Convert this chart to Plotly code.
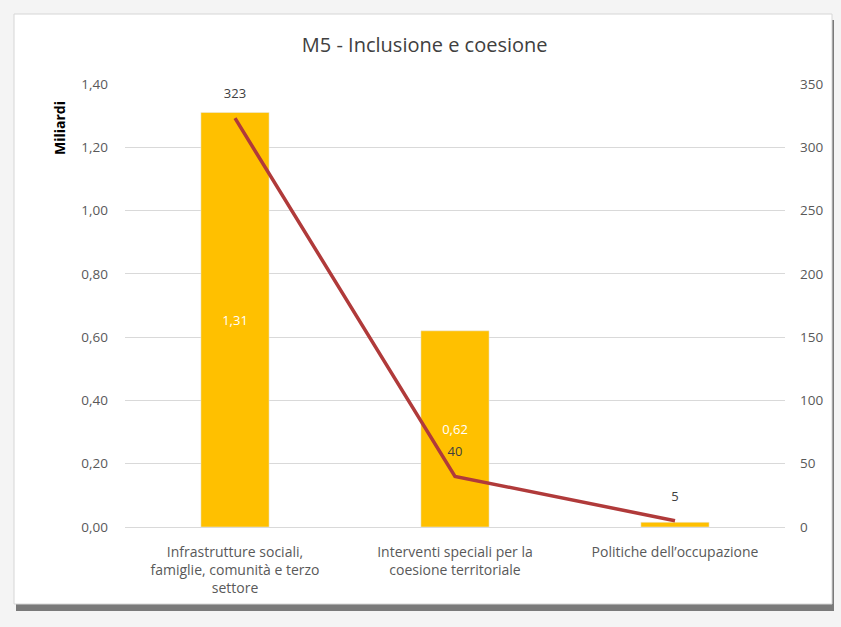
import plotly.graph_objects as go

categories = [
    "Infrastrutture sociali,<br>famiglie, comunità e terzo<br>settore",
    "Interventi speciali per la<br>coesione territoriale",
    "Politiche dell’occupazione",
]
miliardi = [1.31, 0.62, 0.015]
bar_labels = ["1,31", "0,62", ""]
progetti = [323, 40, 5]
line_labels = ["323", "40", "5"]

W, H = 841, 627
L, R, T, B = 125, 785, 84, 527

def px(x):
    return (x - L) / (R - L)

def py(y):
    return (B - y) / (B - T)

fig = go.Figure()
fig.add_trace(go.Bar(
    x=categories, y=miliardi, marker_color="#FFC000",
    text=bar_labels, textposition="inside", insidetextanchor="middle",
    textfont=dict(color="white", size=13, family="Open Sans"),
    width=0.31, yaxis="y", cliponaxis=False,
))
fig.add_trace(go.Scatter(
    x=categories, y=progetti, mode="lines+text", yaxis="y2",
    line=dict(color="#B03A3A", width=3.5),
    text=[t + "<br> " for t in line_labels], textposition="top center",
    textfont=dict(color="#404040", size=13, family="Open Sans"),
    cliponaxis=False,
))

tickfont = dict(color="#595959", size=13.5, family="Open Sans")
fig.update_layout(
    width=W, height=H,
    margin=dict(l=L, r=W - R, t=T, b=H - B),
    paper_bgcolor="#f4f4f4",
    plot_bgcolor="rgba(0,0,0,0)",
    showlegend=False,
    separators=",.",
    bargap=0.69,
    xaxis=dict(tickfont=dict(color="#595959", size=14, family="Open Sans"),
               showgrid=False, showline=True,
               linecolor="#d9d9d9", ticks="", tickangle=0, ticklabelstandoff=12),
    yaxis=dict(range=[0, 1.4], dtick=0.2, tickformat=".2f", tickfont=tickfont,
               gridcolor="#d9d9d9", zeroline=False, ticks="", ticklen=0,
               ticklabelstandoff=16),
    yaxis2=dict(range=[0, 350], dtick=50, overlaying="y", side="right",
                tickfont=tickfont, showgrid=False, zeroline=False,
                ticklabelstandoff=14),
    title=dict(text="M5 - Inclusione e coesione", x=0.505, xanchor="center",
               y=1 - 45 / H, yanchor="middle",
               font=dict(size=20, color="#404040", family="Open Sans")),
    shapes=[
        dict(type="rect", xref="paper", yref="paper",
             x0=px(16), x1=px(834), y0=py(611), y1=py(20),
             fillcolor="#7a7a7a", line=dict(width=0), layer="below"),
        dict(type="rect", xref="paper", yref="paper",
             x0=px(14), x1=px(832), y0=py(604), y1=py(14),
             fillcolor="white", line=dict(color="#d6d6d6", width=1), layer="below"),
    ],
    annotations=[
        dict(text="<b>Miliardi</b>", xref="paper", yref="paper",
             x=px(60), y=py(128), textangle=-90, showarrow=False,
             font=dict(size=14, color="#000000", family="Open Sans"),
             xanchor="center", yanchor="middle"),
    ],
)

fig.write_html("out.html", config={"displayModeBar": False},
               post_script="document.body.style.margin='0';document.body.style.padding='0';")
